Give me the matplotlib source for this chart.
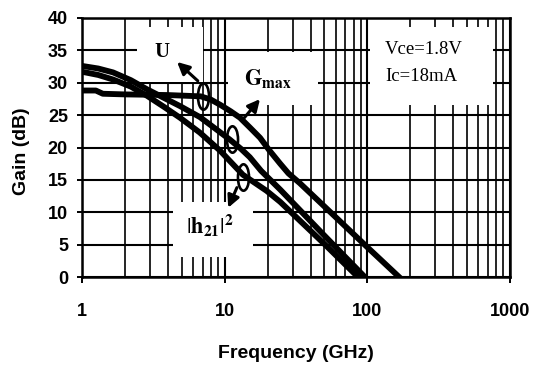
import matplotlib
matplotlib.use('Agg')
import matplotlib.pyplot as plt
from matplotlib.patches import Rectangle
from matplotlib.markers import MarkerStyle
from matplotlib.transforms import Affine2D
from matplotlib.ticker import LogLocator, FixedLocator, NullFormatter

plt.rcParams['font.family'] = ['Liberation Sans', 'DejaVu Sans']
plt.rcParams['mathtext.fontset'] = 'stix'

# values
u_freq = [1, 1.25, 1.4, 2, 4, 6.8, 8, 9.3, 11, 12.8, 15, 17.7, 20.5, 24.5, 28, 33.6, 50, 100, 167]
u_gain = [28.8, 28.8, 28.3, 28.2, 28.1, 27.9, 27.4, 26.6, 25.6, 24.6, 23.1, 21.5, 19.6, 17.5, 16.0, 14.5, 10.9, 4.6, 0]

gmax_freq = [1, 1.3, 1.65, 2.2, 2.85, 3.8, 4.86, 6.7, 8.5, 10.9, 13, 15, 18, 24.5, 50, 96]
gmax_gain = [32.6, 32.2, 31.6, 30.4, 29.0, 27.6, 26.4, 24.7, 23.0, 21.2, 19.8, 18.5, 16.4, 13.5, 6.4, 0]

h21_freq = [1, 1.3, 1.65, 2.2, 2.85, 3.8, 4.86, 6.7, 9.3, 13.4, 19.7, 24.5, 50, 86]
h21_gain = [31.7, 31.2, 30.5, 29.4, 28.0, 26.2, 24.6, 22.3, 19.5, 15.8, 13.3, 11.6, 5.1, 0]

xticks = [1, 10, 100, 1000]
yticks = [0, 5, 10, 15, 20, 25, 30, 35, 40]

fig = plt.figure(figsize=(5.36, 3.65), dpi=100)
ax = fig.add_axes([82 / 536, 88 / 365, 428 / 536, 259 / 365])
ax.set_xscale('log')
ax.set_xlim(1, 1000)
ax.set_ylim(0, 40)
ax.set_axisbelow(True)

ax.xaxis.set_major_locator(FixedLocator(xticks))
ax.set_xticklabels([str(t) for t in xticks])
ax.xaxis.set_minor_locator(LogLocator(base=10, subs=range(2, 10)))
ax.xaxis.set_minor_formatter(NullFormatter())
ax.set_yticks(yticks)

ax.grid(True, which='major', color='black', lw=1.5)
ax.grid(True, which='minor', axis='x', color='black', lw=1.2)
ax.tick_params(axis='x', which='major', direction='out', length=4.5, width=1.4, pad=14, labelsize=13)
ax.tick_params(axis='x', which='minor', length=0)
ax.tick_params(axis='y', direction='out', length=3.6, width=1.4, pad=6.5, labelsize=13)
for lab in ax.get_xticklabels() + ax.get_yticklabels():
    lab.set_fontweight('bold')
for sp in ax.spines.values():
    sp.set_linewidth(1.8)

# white text boxes covering the grid
boxes = [(2.42, 30.1, 7.1, 38.6), (10.5, 26.6, 45, 34.8),
         (104, 26.6, 760, 38.6), (4.34, 3.1, 15.7, 11.6)]
for x0, y0, x1, y1 in boxes:
    ax.add_patch(Rectangle((x0, y0), x1 - x0, y1 - y0, facecolor='white',
                           edgecolor='none', zorder=1))

for fr, g in [(u_freq, u_gain), (gmax_freq, gmax_gain), (h21_freq, h21_gain)]:
    ax.plot(fr, g, color='black', lw=4.2, solid_joinstyle='round', zorder=3)

# tall ellipses marking each curve
ell = MarkerStyle('o', transform=Affine2D().scale(0.42, 1.0))
ax.plot([7.05, 11.25, 13.4], [27.95, 21.3, 15.4], ls='none', marker=ell,
        ms=19, mfc='none', mec='black', mew=1.9, zorder=4)

arrow = dict(arrowstyle='-|>', color='black', lw=2.2, mutation_scale=18)
ax.annotate('', xy=(4.49, 33.5), xytext=(6.7, 30.0), arrowprops=arrow, zorder=5)
ax.annotate('', xy=(18.2, 27.8), xytext=(12.8, 23.8), arrowprops=arrow, zorder=5)
ax.annotate('', xy=(10.4, 10.3), xytext=(12.4, 14.2), arrowprops=arrow, zorder=5)

ax.text(3.64, 34.7, 'U', family='Liberation Serif', fontweight='bold', fontsize=15,
        ha='center', va='center', zorder=5)
ax.text(20.1, 30.7, r'$\mathbf{G}_{\mathbf{max}}$', fontsize=16, ha='center', va='center', zorder=5)
ax.text(7.87, 7.9, r'$|\mathbf{h}_{\mathbf{21}}|^{\mathbf{2}}$', fontsize=16, ha='center',
        va='center', zorder=5)
ax.text(133, 35.1, 'Vce=1.8V', family='Liberation Serif', fontsize=13.5,
        ha='left', va='center', zorder=5)
ax.text(133, 30.9, 'Ic=18mA', family='Liberation Serif', fontsize=13.5,
        ha='left', va='center', zorder=5)

fig.text(296 / 536, 1 - 353 / 365, 'Frequency (GHz)', fontsize=14, fontweight='bold',
         ha='center', va='center')
fig.text(22 / 536, 1 - 151 / 365, 'Gain (dB)', fontsize=14, fontweight='bold',
         ha='center', va='center', rotation=90)

fig.savefig('out.png', dpi=100)
